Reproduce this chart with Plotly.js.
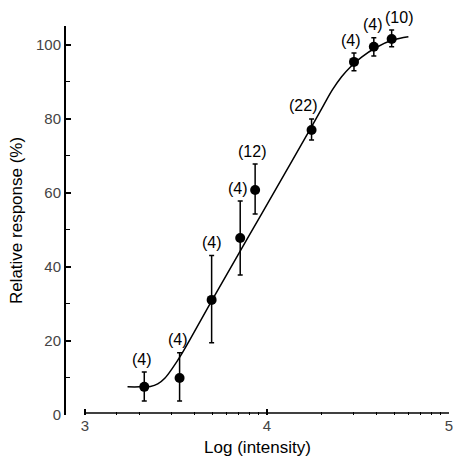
<!DOCTYPE html>
<html>
<head>
<meta charset="utf-8">
<script src="https://cdn.plot.ly/plotly-3.0.1.min.js"></script>
<style>html,body{margin:0;padding:0;background:#fff;}#chart{width:455px;height:457px;}</style>
</head>
<body>
<div id="chart"></div>
<script>
// Measured points
var logIntensity = [3.326, 3.52, 3.696, 3.853, 3.935, 4.245, 4.478, 4.587, 4.685];
var response     = [7.6, 10.0, 31.1, 47.8, 60.8, 77.0, 95.4, 99.5, 101.6];
var errPlus      = [4.0, 6.8, 12.0, 10.0, 7.0, 3.0, 2.4, 2.4, 2.4];
var errMinus     = [3.8, 6.2, 11.6, 10.0, 6.5, 2.7, 2.4, 2.5, 2.1];
var nCount       = [4, 4, 4, 4, 12, 22, 4, 4, 10];

// Fitted curve
var curveX = [3.234, 3.30, 3.36, 3.40, 3.44, 3.48, 3.53, 3.60, 3.70, 3.90, 4.10, 4.25, 4.31, 4.36, 4.41, 4.46, 4.52, 4.60, 4.69, 4.777];
var curveY = [7.6, 7.6, 7.7, 8.4, 10.0, 12.6, 16.4, 22.4, 31.2, 48.3, 65.4, 78.3, 83.6, 87.9, 91.4, 94.1, 96.7, 99.3, 101.3, 102.2];

// Axis ticks
var xMajor = [3, 4, 5];
var xMinor = [3.176, 3.301, 3.477, 3.602, 3.699, 3.778, 3.845, 3.903, 3.954,
              4.301, 4.477, 4.602, 4.699, 4.778, 4.845, 4.903, 4.954];
var yMajor = [0, 20, 40, 60, 80, 100];
var yMinor = [10, 30, 50, 70, 90];

// label horizontal nudges (layout only)
var labelShift = [-2, -2, 0, -2, -3, -9, -3, -1, 7];

var curve = {
  x: curveX, y: curveY, type: 'scatter', mode: 'lines',
  line: {color: '#000', width: 1.5, shape: 'spline', smoothing: 1},
  hoverinfo: 'skip', showlegend: false
};
var pts = {
  x: logIntensity, y: response, type: 'scatter', mode: 'markers',
  marker: {color: '#000', size: 10},
  error_y: {type: 'data', symmetric: false, array: errPlus, arrayminus: errMinus,
            color: '#000', thickness: 1.5, width: 2.5},
  showlegend: false
};

var annotations = logIntensity.map(function (x, i) {
  return {
    x: x, y: response[i] + errPlus[i], xref: 'x', yref: 'y',
    text: '(' + nCount[i] + ')', showarrow: false,
    xanchor: 'center', yanchor: 'middle', yshift: 13, xshift: labelShift[i],
    font: {family: 'Liberation Sans, Arial, sans-serif', size: 16, color: '#000'}
  };
});

var layout = {
  width: 455, height: 457,
  margin: {l: 66, r: 6, t: 26, b: 42},
  paper_bgcolor: '#fff', plot_bgcolor: '#fff',
  showlegend: false,
  xaxis: {
    range: [2.896, 5.0], showgrid: false, zeroline: false, showline: false,
    tickmode: 'array', tickvals: xMajor, ticktext: xMajor.map(String),
    ticks: 'inside', ticklen: 6, tickwidth: 1.5, tickcolor: '#000',
    ticklabeloverflow: 'allow',
    minor: {tickmode: 'array', tickvals: xMinor, ticks: 'inside', ticklen: 3, tickwidth: 1, tickcolor: '#000', showgrid: false},
    tickfont: {family: 'Liberation Sans, Arial, sans-serif', size: 15, color: '#444'},
    title: {text: 'Log (intensity)', standoff: 9,
            font: {family: 'Liberation Sans, Arial, sans-serif', size: 17, color: '#000'}},
    automargin: false, fixedrange: true
  },
  yaxis: {
    range: [0, 105.1], showgrid: false, zeroline: false,
    showline: true, linecolor: '#000', linewidth: 2,
    tickmode: 'array', tickvals: yMajor, ticktext: yMajor.map(String),
    ticks: 'inside', ticklen: 5, tickwidth: 1.5, tickcolor: '#000',
    minor: {tickmode: 'array', tickvals: yMinor, ticks: 'inside', ticklen: 4, tickwidth: 1, tickcolor: '#000', showgrid: false},
    tickfont: {family: 'Liberation Sans, Arial, sans-serif', size: 15, color: '#444'},
    title: {text: 'Relative response (%)', standoff: 9,
            font: {family: 'Liberation Sans, Arial, sans-serif', size: 17, color: '#000'}},
    automargin: false, fixedrange: true
  },
  shapes: [{
    type: 'line', xref: 'x', yref: 'paper', x0: xMajor[0], x1: xMajor[xMajor.length - 1], y0: 0.005, y1: 0.005,
    line: {color: '#000', width: 1.5}
  }],
  annotations: annotations
};

Plotly.newPlot('chart', [curve, pts], layout, {displayModeBar: false, staticPlot: true});
</script>
</body>
</html>
